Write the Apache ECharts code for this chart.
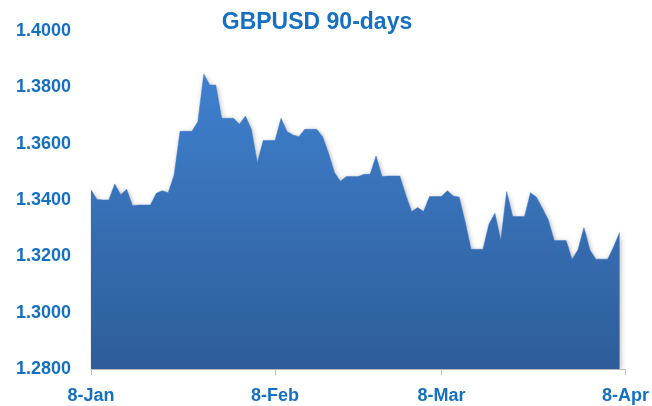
<!DOCTYPE html>
<html>
<head>
<meta charset="utf-8">
<script src="https://cdn.jsdelivr.net/npm/echarts@6/dist/echarts.min.js"></script>
<style>
  html, body { margin: 0; padding: 0; background: #fff; }
  #chart { width: 652px; height: 406px; }
</style>
</head>
<body>
<div id="chart"></div>
<script>
// daily closes, 8-Jan .. 7-Apr
var rates = [
  1.3436, 1.3402, 1.3400, 1.3400, 1.3457, 1.3419, 1.3438, 1.3380, 1.3382, 1.3382,
  1.3382, 1.3424, 1.3433, 1.3426, 1.3489, 1.3644, 1.3644, 1.3644, 1.3678, 1.3847,
  1.3808, 1.3808, 1.3690, 1.3690, 1.3690, 1.3669, 1.3698, 1.3651, 1.3532, 1.3611,
  1.3611, 1.3611, 1.3690, 1.3643, 1.3631, 1.3625, 1.3651, 1.3651, 1.3651, 1.3625,
  1.3566, 1.3497, 1.3467, 1.3483, 1.3483, 1.3483, 1.3491, 1.3491, 1.3556, 1.3483,
  1.3485, 1.3485, 1.3485, 1.3418, 1.3359, 1.3373, 1.3359, 1.3412, 1.3412, 1.3412,
  1.3433, 1.3414, 1.3410, 1.3323, 1.3225, 1.3225, 1.3225, 1.3314, 1.3353, 1.3258,
  1.3430, 1.3341, 1.3341, 1.3341, 1.3426, 1.3410, 1.3371, 1.3329, 1.3256, 1.3256,
  1.3256, 1.3190, 1.3223, 1.3302, 1.3223, 1.3190, 1.3190, 1.3190, 1.3234, 1.3285
];
// axis runs 8-Jan .. 8-Apr, one slot per day
var months = ["Jan", "Feb", "Mar", "Apr"];
var monthDays = [31, 28, 31, 30];
var tickIndex = [0, 31, 59, 90];
var yMin = 1.28, yMax = 1.40, yStep = 0.02;

var days = [];
var m = 0, d = 8;
for (var i = 0; i <= 90; i++) {
  days.push(d + "-" + months[m]);
  d++;
  if (d > monthDays[m]) { d = 1; m++; }
}

var labelStyle = {
  color: "#1570C2",
  fontFamily: "Liberation Sans",
  fontWeight: "bold",
  fontSize: 18
};

var chart = echarts.init(document.getElementById("chart"));
chart.setOption({
  animation: false,
  title: {
    text: "GBPUSD 90-days",
    left: 312,
    textAlign: "center",
    top: 6,
    textStyle: {
      color: "#1570C2",
      fontFamily: "Liberation Sans",
      fontWeight: "bold",
      fontSize: 23
    }
  },
  grid: { left: 91, right: 25, top: 31, bottom: 37 },
  xAxis: {
    type: "category",
    data: days,
    boundaryGap: false,
    axisLine: { show: true, lineStyle: { color: "#BFBFBF", width: 1 } },
    axisTick: {
      show: true,
      length: 6,
      interval: function (idx) { return tickIndex.indexOf(idx) >= 0; },
      lineStyle: { color: "#BFBFBF" }
    },
    axisLabel: Object.assign({
      margin: 18,
      interval: function (idx) { return tickIndex.indexOf(idx) >= 0; }
    }, labelStyle),
    splitLine: { show: false }
  },
  yAxis: {
    type: "value",
    min: yMin,
    max: yMax,
    interval: yStep,
    axisLine: { show: false },
    axisTick: { show: false },
    splitLine: { show: false },
    axisLabel: Object.assign({
      margin: 20,
      formatter: function (v) { return v.toFixed(4); }
    }, labelStyle)
  },
  series: [{
    type: "line",
    data: rates,
    symbol: "none",
    lineStyle: { width: 0.5, color: "#3C7BC8" },
    areaStyle: {
      opacity: 1,
      color: new echarts.graphic.LinearGradient(0, 0, 0, 1, [
        { offset: 0, color: "#3F80CF" },
        { offset: 1, color: "#2E5D98" }
      ]),
      shadowBlur: 5,
      shadowColor: "rgba(0,0,0,0.3)",
      shadowOffsetX: 1,
      shadowOffsetY: 1
    }
  }]
});
</script>
</body>
</html>
